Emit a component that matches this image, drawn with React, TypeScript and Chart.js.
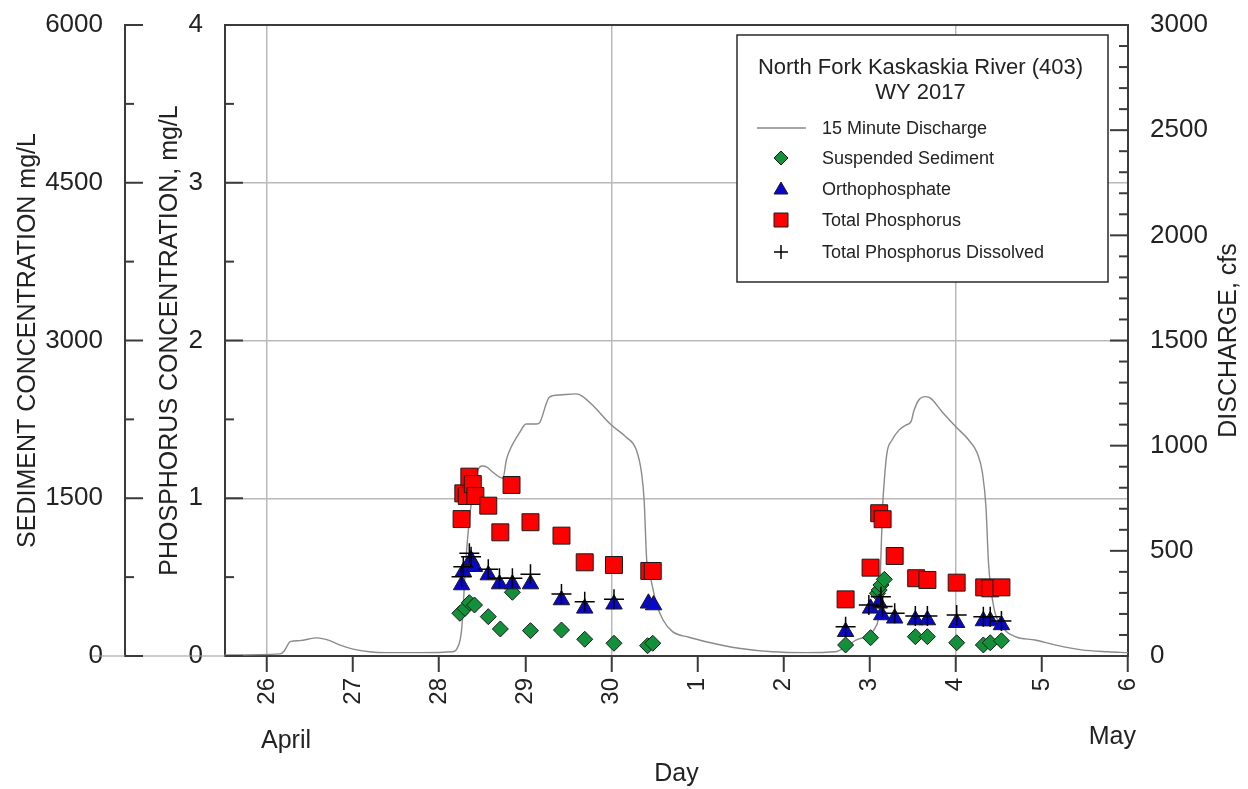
import React, { useEffect, useRef } from 'react';
import { Chart, registerables } from 'chart.js';

Chart.register(...registerables);

const FONT = '"Liberation Sans", Arial, Helvetica, sans-serif';
const TEXT = '#222222';

// Day numbers: April 26 = 26 ... April 30 = 30, May 1 = 31 ... May 6 = 36
const dischargeDays = [25.51, 26.15, 26.2, 26.27, 26.38, 26.58, 26.73, 26.85, 27.0, 27.19, 27.39, 27.77, 28.16, 28.21, 28.26, 28.31, 28.35, 28.39, 28.45, 28.5, 28.55, 28.62, 28.7, 28.74, 28.78, 28.82, 28.93, 29.01, 29.13, 29.17, 29.28, 29.4, 29.59, 29.66, 29.78, 30.0, 30.17, 30.29, 30.35, 30.38, 30.41, 30.46, 30.52, 30.6, 30.71, 30.9, 31.1, 31.48, 31.87, 32.26, 32.6, 32.72, 32.84, 32.99, 33.07, 33.11, 33.13, 33.15, 33.17, 33.2, 33.26, 33.34, 33.42, 33.48, 33.51, 33.57, 33.65, 33.71, 33.84, 34.0, 34.15, 34.25, 34.31, 34.35, 34.38, 34.44, 34.54, 34.69, 34.92, 35.16, 35.46, 35.77, 36.0];
const dischargeCfs = [5, 10, 24, 68, 73, 86, 73, 52, 33, 20, 16, 16, 20, 38, 124, 456, 647, 775, 884, 903, 899, 875, 851, 846, 932, 979, 1060, 1103, 1103, 1112, 1231, 1241, 1246, 1236, 1193, 1098, 1041, 979, 870, 742, 456, 361, 252, 171, 116, 89, 68, 37, 20, 16, 20, 44, 76, 100, 139, 219, 471, 710, 837, 965, 1027, 1074, 1098, 1114, 1161, 1217, 1233, 1225, 1161, 1090, 1027, 964, 869, 710, 442, 234, 139, 92, 76, 52, 29, 20, 16];

const sedimentDays = [28.24, 28.3, 28.35, 28.41, 28.57, 28.71, 28.85, 29.06, 29.42, 29.69, 30.03, 30.42, 30.48, 32.72, 33.01, 33.09, 33.11, 33.13, 33.17, 33.53, 33.67, 34.01, 34.32, 34.4, 34.53];
const sedimentMgL = [406, 453, 507, 485, 374, 257, 606, 241, 247, 159, 121, 98, 121, 105, 174, 596, 628, 675, 729, 184, 184, 126, 105, 126, 145];

const orthoDays = [28.26, 28.28, 28.33, 28.37, 28.41, 28.57, 28.7, 28.85, 29.06, 29.42, 29.69, 30.03, 30.43, 30.49, 32.72, 33.01, 33.11, 33.14, 33.29, 33.53, 33.67, 34.01, 34.32, 34.4, 34.53];
const orthoMgL = [0.45, 0.534, 0.566, 0.609, 0.566, 0.513, 0.456, 0.456, 0.456, 0.355, 0.302, 0.328, 0.334, 0.323, 0.154, 0.302, 0.334, 0.26, 0.239, 0.228, 0.228, 0.211, 0.222, 0.222, 0.197];

const tpDays = [28.26, 28.28, 28.32, 28.35, 28.39, 28.42, 28.57, 28.71, 28.84, 29.06, 29.42, 29.69, 30.03, 30.44, 30.48, 32.72, 33.01, 33.11, 33.15, 33.29, 33.54, 33.67, 34.01, 34.33, 34.4, 34.53];
const tpMgL = [0.868, 1.031, 1.014, 1.137, 1.09, 1.014, 0.953, 0.784, 1.084, 0.848, 0.763, 0.594, 0.577, 0.539, 0.539, 0.359, 0.56, 0.905, 0.867, 0.634, 0.493, 0.482, 0.465, 0.435, 0.429, 0.435];

const tpdDays = [28.26, 28.28, 28.35, 28.37, 28.57, 28.7, 28.85, 29.06, 29.42, 29.69, 30.03, 32.72, 32.99, 33.13, 33.15, 33.29, 33.53, 33.67, 34.01, 34.32, 34.4, 34.53];
const tpdMgL = [0.503, 0.566, 0.651, 0.629, 0.55, 0.493, 0.493, 0.518, 0.393, 0.344, 0.359, 0.186, 0.323, 0.376, 0.313, 0.271, 0.254, 0.254, 0.26, 0.249, 0.249, 0.222];

const xMin = 25.512;
const xMax = 36;
const gridDays = [26, 30, 34];
const sedimentTickStep = 1500;
const phosphorusTickStep = 1;
const dischargeTickStep = 500;

const legendTitle = ['North Fork Kaskaskia River (403)', 'WY 2017'];
const legendLabels = ['15 Minute Discharge', 'Suspended Sediment', 'Orthophosphate', 'Total Phosphorus', 'Total Phosphorus Dissolved'];

const GREEN = '#13903a';
const BLUE = '#0808cc';
const RED = '#ff0000';
const LINE = '#8a8a8a';
const GRID = '#b9b9b9';
const AXIS = '#3a3a3a';

const toXY = (xs: number[], ys: number[]) => xs.map((x, i) => ({ x, y: ys[i] }));
const plainNumber = (v: any) => String(v);
const fixWidth = (w: number) => (s: any) => {
  s.width = w;
  s.paddingTop = 0;
  s.paddingBottom = 0;
};

function drawMarker(ctx: CanvasRenderingContext2D, kind: string, x: number, y: number, r: number) {
  ctx.save();
  ctx.lineWidth = 1;
  ctx.strokeStyle = '#1a1a1a';
  ctx.beginPath();
  if (kind === 'diamond') {
    ctx.fillStyle = GREEN;
    ctx.moveTo(x - r, y); ctx.lineTo(x, y - r); ctx.lineTo(x + r, y); ctx.lineTo(x, y + r); ctx.closePath();
    ctx.fill(); ctx.stroke();
  } else if (kind === 'triangle') {
    ctx.fillStyle = BLUE;
    const h = r * Math.sqrt(3) / 2;
    ctx.moveTo(x, y - r); ctx.lineTo(x + h, y + r / 2); ctx.lineTo(x - h, y + r / 2); ctx.closePath();
    ctx.fill(); ctx.stroke();
  } else if (kind === 'square') {
    ctx.fillStyle = RED;
    ctx.rect(x - r, y - r, 2 * r, 2 * r);
    ctx.fill(); ctx.stroke();
  } else if (kind === 'plus') {
    ctx.strokeStyle = '#000';
    ctx.lineWidth = 1.5;
    ctx.moveTo(x - r, y); ctx.lineTo(x + r, y); ctx.moveTo(x, y - r); ctx.lineTo(x, y + r);
    ctx.stroke();
  }
  ctx.restore();
}

const decorPlugin = {
  id: 'decor',
  afterDraw(chart: any) {
    const { ctx, chartArea: ca, scales } = chart;
    const xs = scales.x, yS = scales.yS, yP = scales.yP, yQ = scales.yQ;
    ctx.save();

    // faint baseline through zero labels on the left
    ctx.strokeStyle = '#9a9a9a';
    ctx.lineWidth = 1.2;
    ctx.beginPath();
    ctx.moveTo(92, ca.bottom); ctx.lineTo(ca.left, ca.bottom);
    ctx.stroke();

    // top border of the plot
    ctx.strokeStyle = AXIS;
    ctx.lineWidth = 2;
    ctx.beginPath();
    ctx.moveTo(ca.left, ca.top); ctx.lineTo(ca.right, ca.top);
    ctx.stroke();

    // inward tick marks
    const tickSet = (scale: any, ax: number, dir: number, max: number, minor: number, major: number) => {
      for (let v = 0; v <= max + 1e-9; v += minor) {
        const isMajor = Math.abs(v / major - Math.round(v / major)) < 1e-6;
        const py = scale.getPixelForValue(v);
        const len = isMajor ? 18 : 9;
        ctx.beginPath();
        ctx.moveTo(ax, py);
        ctx.lineTo(ax + dir * len, py);
        ctx.stroke();
      }
    };
    ctx.strokeStyle = AXIS;
    ctx.lineWidth = 2;
    tickSet(yS, yS.right, 1, 6000, 750, sedimentTickStep);
    tickSet(yP, ca.left, 1, 4, 0.5, phosphorusTickStep);
    tickSet(yQ, ca.right, -1, 3000, 100, dischargeTickStep);

    // right axis title (reads bottom to top)
    ctx.fillStyle = TEXT;
    ctx.font = `25px ${FONT}`;
    ctx.textAlign = 'center';
    ctx.textBaseline = 'middle';
    ctx.save();
    ctx.translate(1229, (ca.top + ca.bottom) / 2);
    ctx.rotate(-Math.PI / 2);
    ctx.fillText('DISCHARGE, cfs', 0, 0);
    ctx.restore();

    // month labels
    ctx.font = `25px ${FONT}`;
    ctx.textAlign = 'left';
    ctx.fillText('April', xs.getPixelForValue(26) - 6, 741);
    ctx.textAlign = 'right';
    ctx.fillText('May', xs.getPixelForValue(36) + 8, 737);

    // legend box
    const bx = 737, by = 35, bw = 371, bh = 247;
    ctx.fillStyle = '#ffffff';
    ctx.fillRect(bx, by, bw, bh);
    ctx.strokeStyle = '#2a2a2a';
    ctx.lineWidth = 1.5;
    ctx.strokeRect(bx, by, bw, bh);

    ctx.fillStyle = TEXT;
    ctx.textAlign = 'center';
    ctx.font = `22px ${FONT}`;
    ctx.fillText(legendTitle[0], bx + bw / 2 - 2, 68);
    ctx.fillText(legendTitle[1], bx + bw / 2 - 2, 93);

    const rowY = [128, 158, 189, 220, 252];
    const symX = 781;
    ctx.font = `18px ${FONT}`;
    ctx.textAlign = 'left';
    legendLabels.forEach((lab, i) => {
      const yy = rowY[i];
      if (i === 0) {
        ctx.strokeStyle = LINE;
        ctx.lineWidth = 1.3;
        ctx.beginPath();
        ctx.moveTo(757, yy); ctx.lineTo(806, yy);
        ctx.stroke();
      } else if (i === 1) drawMarker(ctx, 'diamond', symX, yy, 7);
      else if (i === 2) drawMarker(ctx, 'triangle', symX, yy + 1, 8);
      else if (i === 3) drawMarker(ctx, 'square', symX, yy, 7);
      else drawMarker(ctx, 'plus', symX, yy, 7);
      ctx.fillStyle = TEXT;
      ctx.fillText(lab, 822, yy + 1);
    });

    ctx.restore();
  },
};

export default function App() {
  const ref = useRef<HTMLCanvasElement | null>(null);

  useEffect(() => {
    if (!ref.current) return;
    const tickFont = { family: FONT, size: 26 };
    const titleFont = { family: FONT, size: 25 };
    const chart = new Chart(ref.current, {
      type: 'scatter',
      data: {
        datasets: [
          {
            label: legendLabels[0],
            data: toXY(dischargeDays, dischargeCfs),
            showLine: true,
            borderColor: LINE,
            borderWidth: 1.4,
            pointRadius: 0,
            cubicInterpolationMode: 'monotone',
            xAxisID: 'x',
            yAxisID: 'yQ',
            order: 5,
          } as any,
          {
            label: legendLabels[1],
            data: toXY(sedimentDays, sedimentMgL),
            pointStyle: 'rectRot',
            pointRadius: 8,
            backgroundColor: GREEN,
            borderColor: '#1a1a1a',
            borderWidth: 1,
            xAxisID: 'x',
            yAxisID: 'yS',
            order: 4,
          },
          {
            label: legendLabels[2],
            data: toXY(orthoDays, orthoMgL),
            pointStyle: 'triangle',
            pointRadius: 9.5,
            backgroundColor: BLUE,
            borderColor: '#1a1a1a',
            borderWidth: 1,
            xAxisID: 'x',
            yAxisID: 'yP',
            order: 3,
          },
          {
            label: legendLabels[3],
            data: toXY(tpDays, tpMgL),
            pointStyle: 'rect',
            pointRadius: 12,
            backgroundColor: RED,
            borderColor: '#1a1a1a',
            borderWidth: 1,
            xAxisID: 'x',
            yAxisID: 'yP',
            order: 2,
          },
          {
            label: legendLabels[4],
            data: toXY(tpdDays, tpdMgL),
            pointStyle: 'cross',
            pointRadius: 10,
            borderColor: '#000000',
            borderWidth: 1.5,
            xAxisID: 'x',
            yAxisID: 'yP',
            order: 1,
          },
        ],
      },
      options: {
        responsive: false,
        animation: false,
        devicePixelRatio: 1,
        layout: { padding: { top: 25, left: 0, right: 0, bottom: 0 } },
        plugins: { legend: { display: false }, tooltip: { enabled: false } },
        scales: {
          x: {
            type: 'linear',
            position: 'bottom',
            min: xMin,
            max: xMax,
            afterFit: (s: any) => { s.height = 133; },
            ticks: {
              stepSize: 1,
              includeBounds: false,
              autoSkip: false,
              minRotation: 90,
              maxRotation: 90,
              padding: 6,
              color: TEXT,
              font: { family: FONT, size: 24 },
              callback: (v: any) => (v <= 30 ? String(v) : String(v - 30)),
            },
            grid: {
              color: (c: any) => (c.tick && gridDays.includes(c.tick.value) ? GRID : 'rgba(0,0,0,0)'),
              lineWidth: 1.5,
              drawTicks: true,
              tickLength: 16,
              tickColor: AXIS,
              tickWidth: 2,
            },
            border: { display: true, color: AXIS, width: 2 },
            title: { display: true, text: 'Day', color: TEXT, font: titleFont, padding: { top: 0, bottom: 0 } },
          },
          yS: {
            type: 'linear',
            position: 'left',
            weight: 2,
            min: 0,
            max: 6000,
            afterFit: fixWidth(125),
            ticks: { stepSize: sedimentTickStep, padding: 22, color: TEXT, font: tickFont, callback: plainNumber },
            grid: { drawOnChartArea: false, drawTicks: false },
            border: { display: true, color: AXIS, width: 2 },
            title: { display: true, text: 'SEDIMENT CONCENTRATION mg/L', color: TEXT, font: titleFont, padding: { top: 13, bottom: 0 } },
          },
          yP: {
            type: 'linear',
            position: 'left',
            weight: 1,
            min: 0,
            max: 4,
            afterFit: fixWidth(100),
            ticks: { stepSize: phosphorusTickStep, padding: 22, color: TEXT, font: tickFont, callback: plainNumber },
            grid: {
              color: (c: any) => (c.tick && c.tick.value > 0 && c.tick.value < 4 ? GRID : 'rgba(0,0,0,0)'),
              lineWidth: 1.5,
              drawTicks: false,
            },
            border: { display: true, color: AXIS, width: 2 },
            title: { display: true, text: 'PHOSPHORUS CONCENTRATION, mg/L', color: TEXT, font: titleFont, padding: { top: 30, bottom: 0 } },
          },
          yQ: {
            type: 'linear',
            position: 'right',
            min: 0,
            max: 3000,
            afterFit: fixWidth(120),
            ticks: { stepSize: dischargeTickStep, padding: 22, color: TEXT, font: tickFont, callback: plainNumber },
            grid: { drawOnChartArea: false, drawTicks: false },
            border: { display: true, color: AXIS, width: 2 },
            title: { display: false },
          },
        },
      } as any,
      plugins: [decorPlugin],
    });
    return () => chart.destroy();
  }, []);

  return (
    <div style={{ position: 'fixed', left: 0, top: 0, width: 1248, height: 789, background: '#ffffff' }}>
      <canvas ref={ref} width={1248} height={789} style={{ display: 'block', width: 1248, height: 789 }} />
    </div>
  );
}
